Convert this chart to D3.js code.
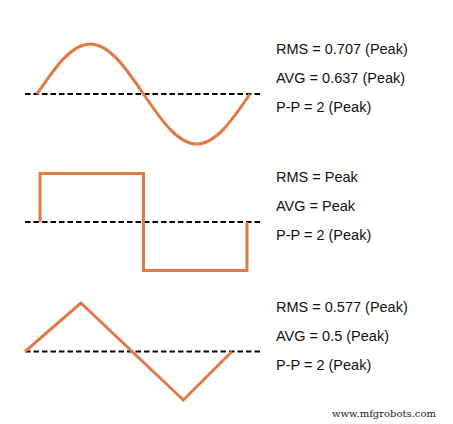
<!DOCTYPE html><html><head><meta charset="utf-8"><script src="https://cdn.jsdelivr.net/npm/d3@7"></script>
<style>body{margin:0;background:#fff}</style></head><body><svg id="c" width="453" height="424"></svg>
<script>
const sinePhase=[0,0.125,0.25,0.375,0.5,0.625,0.75,0.875,1];
const sineValues=[0,0.707,1,0.707,0,-0.707,-1,-0.707,0];
const squarePhase=[0,0,0.5,0.5,1,1];
const squareValues=[0,1,1,-1,-1,0];
const triPhase=[0,0.27,0.765,1];
const triValues=[0,1,-1,0];
const labels=[
 ["RMS = 0.707 (Peak)","AVG = 0.637 (Peak)","P-P = 2 (Peak)"],
 ["RMS = Peak","AVG = Peak","P-P = 2 (Peak)"],
 ["RMS = 0.577 (Peak)","AVG = 0.5 (Peak)","P-P = 2 (Peak)"]];
const svg=d3.select("#c");
const col="#e07a48";
const panels=[
 {ph:sinePhase,v:sineValues,x0:37,x1:250,cy:94,amp:50,curve:d3.curveNatural},
 {ph:squarePhase,v:squareValues,x0:40,x1:247,cy:222,amp:48.5,curve:d3.curveLinear},
 {ph:triPhase,v:triValues,x0:25,x1:232,cy:351.5,amp:48.5,curve:d3.curveLinear}];
panels.forEach((p,i)=>{
 const x=d3.scaleLinear().domain([0,1]).range([p.x0,p.x1]);
 const y=d3.scaleLinear().domain([-1,1]).range([p.cy+p.amp,p.cy-p.amp]);
 svg.append("line").attr("x1",25).attr("x2",262).attr("y1",p.cy).attr("y2",p.cy)
  .attr("stroke","#000").attr("stroke-width",2).attr("stroke-dasharray","5.5,3");
 svg.append("path").attr("d",d3.line().x((d,j)=>x(p.ph[j])).y(d=>y(d)).curve(p.curve)(p.v))
  .attr("fill","none").attr("stroke",col).attr("stroke-width",3);
 labels[i].forEach((t,k)=>svg.append("text").attr("x",276).attr("y",p.cy-40+k*29)
  .attr("font-family","Liberation Sans, Arial, sans-serif").attr("font-size",14.5).attr("fill","#111").text(t));
});
svg.append("text").attr("x",332).attr("y",417).attr("font-family","DejaVu Serif, serif")
 .attr("font-size",10).attr("fill","#222").text("www.mfgrobots.com");
</script></body></html>
